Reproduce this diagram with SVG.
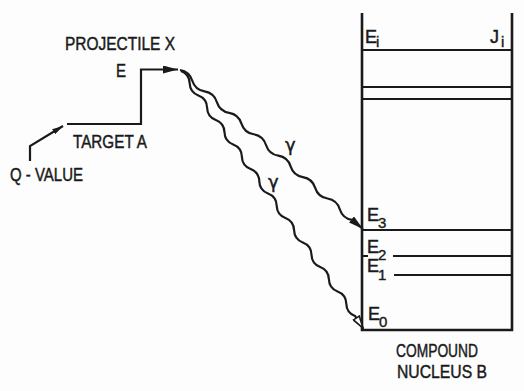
<svg xmlns="http://www.w3.org/2000/svg" width="524" height="391" viewBox="0 0 524 391">
<style>
  .t { font-family: "Liberation Sans", "DejaVu Sans", sans-serif; font-size: 18px; fill: #1a1a1a; stroke: #1a1a1a; stroke-width: 0.45; }
  .s { font-family: "Liberation Sans", "DejaVu Sans", sans-serif; font-size: 15px; fill: #1a1a1a; stroke: #1a1a1a; stroke-width: 0.4; }
  .g { font-family: "DejaVu Sans", "Liberation Sans", sans-serif; font-size: 18px; fill: #1a1a1a; stroke: #1a1a1a; stroke-width: 0.4; }
  .ln { stroke: #1a1a1a; stroke-width: 2.2; fill: none; }
  .bx { stroke: #1a1a1a; stroke-width: 2.6; fill: none; }
</style>
<defs>
  <marker id="af" viewBox="0 0 15 8" refX="15" refY="4" markerWidth="15" markerHeight="8" markerUnits="userSpaceOnUse" orient="auto">
    <path d="M0,0 L15,4 L0,8 z" fill="#1a1a1a"/>
  </marker>
  <marker id="ao" viewBox="0 0 14 9" refX="13" refY="4.5" markerWidth="14" markerHeight="9" markerUnits="userSpaceOnUse" orient="auto">
    <path d="M1,1 L13,4.5 L1,8 z" fill="#fff" stroke="#1a1a1a" stroke-width="1.6"/>
  </marker>
  <marker id="as" viewBox="0 0 11 6" refX="11" refY="3" markerWidth="11" markerHeight="6" markerUnits="userSpaceOnUse" orient="auto">
    <path d="M0,0 L11,3 L0,6 z" fill="#1a1a1a"/>
  </marker>
</defs>
<rect width="524" height="391" fill="#fdfdfd"/>

<g id="projectile">
  <text class="t" x="65" y="50" textLength="110" lengthAdjust="spacingAndGlyphs">PROJECTILE X</text>
  <text class="t" x="116" y="77" textLength="10" lengthAdjust="spacingAndGlyphs">E</text>
</g>
<g id="target">
  <text class="t" x="73" y="148" textLength="74" lengthAdjust="spacingAndGlyphs">TARGET A</text>
</g>
<g id="qvalue">
  <text class="t" x="10" y="181" textLength="73" lengthAdjust="spacingAndGlyphs">Q - VALUE</text>
</g>

<g id="compound-nucleus">
  <path class="bx" d="M362,13 V330 H512 V13"/>
  <path class="ln" d="M362,50 H512 M362,87 H512 M362,99 H512 M362,230 H512 M362,256 H368 M393,256 H512 M394,275 H512"/>
  <text class="t" x="365" y="43">E</text><text class="s" x="376" y="47">i</text>
  <text class="t" x="490" y="43">J</text><text class="s" x="501" y="47">i</text>
  <text class="t" x="367" y="221">E</text><text class="s" x="378" y="228">3</text>
  <text class="t" x="367" y="253">E</text><text class="s" x="378" y="260">2</text>
  <text class="t" x="367" y="272">E</text><text class="s" x="378" y="280">1</text>
  <text class="t" x="368" y="320">E</text><text class="s" x="379" y="327">0</text>
  <text class="t" x="396" y="357" textLength="82" lengthAdjust="spacingAndGlyphs">COMPOUND</text>
  <text class="t" x="397" y="378" textLength="90" lengthAdjust="spacingAndGlyphs">NUCLEUS  B</text>
</g>

<g id="connectors">
  <path class="ln" d="M67,124 H141 V69.5 H178" marker-end="url(#af)"/>
  <path class="ln" d="M30,161 V146 L63,126" stroke-width="1.8" marker-end="url(#as)"/>
  <path class="ln" d="M180,70 Q189.43,71.59 192.29,80.71 T204.58,91.42 T216.87,102.13 T229.16,112.84 T241.45,123.55 T253.74,134.26 T266.03,144.97 T278.32,155.68 T290.61,166.39 T302.9,177.1 T315.19,187.81 T327.48,198.52 T339.77,209.23 T352.06,219.94 L363,229" marker-end="url(#af)"/>
  <path class="ln" d="M181,71 Q189.43,74.23 189.7,83.25 T198.4,95.5 T207.1,107.75 T215.8,120 T224.5,132.25 T233.2,144.5 T241.9,156.75 T250.6,169 T259.3,181.25 T268,193.5 T276.7,205.75 T285.4,218 T294.1,230.25 T302.8,242.5 T311.5,254.75 T320.2,267 T328.9,279.25 T337.6,291.5 T346.3,303.75 T355,316 L363,328" marker-end="url(#ao)"/>
  <text class="g" x="285" y="151">γ</text>
  <text class="g" x="268" y="187.5">γ</text>
</g>
</svg>
